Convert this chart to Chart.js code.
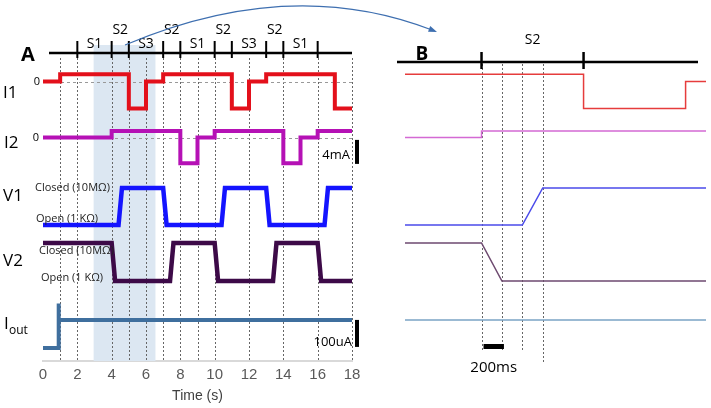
<!DOCTYPE html>
<html>
<head>
<meta charset="utf-8">
<script src="https://cdn.jsdelivr.net/npm/chart.js@4.4.1/dist/chart.umd.min.js"></script>
<style>
  body { margin: 0; background: #fff; }
  #wrap { position: relative; width: 711px; height: 408px; }
  #wrap canvas { position: absolute; left: 0; top: 0; }
</style>
</head>
<body>
<div id="wrap">
  <canvas id="chartA" width="711" height="408"></canvas>
  <canvas id="chartB" width="711" height="408"></canvas>
</div>
<script>
/* --- Data (time in s) --- */
const phaseBounds = [2, 4, 5, 7, 8, 10, 11, 13, 14, 16];
const phaseLabels = ['S1', 'S2', 'S3', 'S2', 'S1', 'S2', 'S3', 'S2', 'S1'];
const gridTimes = [1, 2, 4, 5, 6, 7, 8, 9, 10, 12, 14, 16, 18];
const zoomMarks = [4.0, 4.2, 4.4, 4.6];

// I1, I2 in mA
const i1Time = [0, 1, 1, 5, 5, 6, 6, 7, 7, 11, 11, 12, 12, 13, 13, 17, 17, 18];
const i1Val  = [0, 0, 1.2, 1.2, -4.5, -4.5, 0, 0, 1.2, 1.2, -4.5, -4.5, 0, 0, 1.2, 1.2, -4.5, -4.5];
const i2Time = [0, 4, 4, 8, 8, 9, 9, 10, 10, 14, 14, 15, 15, 16, 16, 18];
const i2Val  = [0, 0, 1.1, 1.1, -4.3, -4.3, 0, 0, 1.1, 1.1, -4.3, -4.3, 0, 0, 1.1, 1.1];
// valves: 0 = Open (1 KΩ), 1 = Closed (10MΩ)
const v1Time = [0, 4.4, 4.6, 7.0, 7.2, 10.4, 10.6, 13.0, 13.2, 16.4, 16.6, 18];
const v1Val  = [0, 0, 1, 1, 0, 0, 1, 1, 0, 0, 1, 1];
const v2Time = [0, 4.0, 4.2, 7.4, 7.6, 10.0, 10.2, 13.4, 13.6, 16.0, 16.2, 18];
const v2Val  = [1, 1, 0, 0, 1, 1, 0, 0, 1, 1, 0, 0];
// output current in uA
const ioutTime = [0, 0.9, 0.9, 0.93, 18];
const ioutVal  = [0, 0, 165, 104, 104];

/* --- Layout helpers --- */
const PLOT_TOP = 0, PLOT_BOTTOM = 361;
function trackAxis(zeroPx, pxPerUnit) {
    return { display: false, position: 'left',
        min: -(PLOT_BOTTOM - zeroPx) / pxPerUnit, max: (zeroPx - PLOT_TOP) / pxPerUnit };
}
function trace(time, val, axis, color, width) {
    return {
        data: time.map((t, i) => ({ x: t, y: val[i] })),
        yAxisID: axis, borderColor: color, borderWidth: width,
        pointRadius: 0, tension: 0, fill: false,
        borderJoinStyle: 'miter', borderCapStyle: 'butt'
    };
}
const trackScales = {
    yI1: trackAxis(81.5, 6),
    yI2: trackAxis(137.5, 6),
    yV1: trackAxis(225, 37),
    yV2: trackAxis(281, 38),
    yOut: trackAxis(348, 0.27)
};

function dashedV(ctx, x, y0, y1) {
    ctx.beginPath(); ctx.moveTo(x, y0); ctx.lineTo(x, y1); ctx.stroke();
}

/* --- Panel A decorations --- */
const decoA = {
    id: 'decoA',
    beforeDatasetsDraw(chart) {
        const { ctx, scales } = chart;
        const x = scales.x;
        ctx.save();
        // highlighted window
        ctx.fillStyle = '#dce7f2';
        ctx.fillRect(x.getPixelForValue(2.95), 45, x.getPixelForValue(6.55) - x.getPixelForValue(2.95), PLOT_BOTTOM - 45);
        // dotted time grid
        ctx.strokeStyle = '#666'; ctx.lineWidth = 1; ctx.setLineDash([2, 2]);
        gridTimes.forEach(t => dashedV(ctx, Math.round(x.getPixelForValue(t)) + 0.5, 58, PLOT_BOTTOM));
        // zero lines of I1 / I2
        ctx.strokeStyle = '#999'; ctx.setLineDash([3, 3]);
        ['yI1', 'yI2'].forEach(id => {
            const y = Math.round(scales[id].getPixelForValue(0)) + 0.5;
            ctx.beginPath(); ctx.moveTo(x.left, y); ctx.lineTo(x.right, y); ctx.stroke();
        });
        ctx.restore();
    },
    afterDatasetsDraw(chart) {
        const { ctx, scales } = chart;
        const x = scales.x;
        ctx.save();
        // timeline with phase ticks
        ctx.strokeStyle = '#000'; ctx.lineWidth = 2.5;
        ctx.beginPath(); ctx.moveTo(x.left + 6, 53); ctx.lineTo(x.right, 53); ctx.stroke();
        ctx.lineWidth = 2;
        phaseBounds.forEach(t => dashedV(ctx, x.getPixelForValue(t), 41, 58));
        ctx.fillStyle = '#000'; ctx.font = '14px "Open Sans"';
        ctx.textAlign = 'center'; ctx.textBaseline = 'middle';
        phaseLabels.forEach((lab, i) => {
            const mid = (phaseBounds[i] + phaseBounds[i + 1]) / 2;
            ctx.fillText(lab, x.getPixelForValue(mid), lab === 'S2' ? 30 : 44);
        });
        // panel letter
        ctx.textAlign = 'left';
        ctx.font = 'bold 20px "Open Sans"';
        ctx.fillText('A', 21, 55);
        // track names
        ctx.font = '17px "Open Sans"';
        ctx.fillText('I1', 3, 93);
        ctx.fillText('I2', 4, 143);
        ctx.fillText('V1', 3, 196);
        ctx.fillText('V2', 3, 261);
        ctx.fillText('I', 4, 324);
        ctx.font = '12px "Open Sans"';
        ctx.fillText('out', 9, 331);
        // zero marks
        ctx.font = '11px "Open Sans"'; ctx.textAlign = 'right';
        ctx.fillText('0', 40, scales.yI1.getPixelForValue(0));
        ctx.fillText('0', 39, scales.yI2.getPixelForValue(0));
        // valve state labels
        ctx.textAlign = 'left'; ctx.fillStyle = '#222';
        ctx.fillText('Closed (10MΩ)', 35, 188);
        ctx.fillText('Open (1 KΩ)', 36, 219);
        ctx.fillText('Closed (10MΩ)', 39, 251);
        ctx.fillText('Open (1 KΩ)', 41, 278);
        // scale bars
        ctx.fillStyle = '#000';
        const bar = (axis, from, to) => {
            const y0 = scales[axis].getPixelForValue(from), y1 = scales[axis].getPixelForValue(to);
            ctx.fillRect(355, y0, 4, y1 - y0);
        };
        bar('yI2', -0.4, -4.4);
        bar('yOut', 104, 4);
        ctx.font = '13px "Open Sans"'; ctx.textAlign = 'right';
        ctx.fillText('4mA', 350, 155);
        ctx.fillText('100uA', 352, 342);
        // connector arrow to panel B
        ctx.strokeStyle = '#3e6fb0'; ctx.fillStyle = '#3e6fb0'; ctx.lineWidth = 1.2;
        ctx.beginPath(); ctx.moveTo(125, 45); ctx.quadraticCurveTo(290, -25, 432, 30); ctx.stroke();
        const ang = Math.atan2(30 - -25, 432 - 290);
        ctx.beginPath();
        ctx.moveTo(437, 32);
        ctx.lineTo(437 - 9 * Math.cos(ang - 0.35), 32 - 9 * Math.sin(ang - 0.35));
        ctx.lineTo(437 - 9 * Math.cos(ang + 0.35), 32 - 9 * Math.sin(ang + 0.35));
        ctx.closePath(); ctx.fill();
        ctx.restore();
    }
};

/* --- Panel B decorations --- */
const decoB = {
    id: 'decoB',
    beforeDatasetsDraw(chart) {
        const { ctx, scales } = chart;
        ctx.save();
        ctx.strokeStyle = '#666'; ctx.lineWidth = 1; ctx.setLineDash([2, 2]);
        zoomMarks.forEach((t, i) => dashedV(ctx, Math.round(scales.x.getPixelForValue(t)) + 0.5, 64,
            i === zoomMarks.length - 1 ? 362 : 352));
        ctx.restore();
    },
    afterDatasetsDraw(chart) {
        const { ctx, scales } = chart;
        const x = scales.x;
        ctx.save();
        ctx.strokeStyle = '#000'; ctx.lineWidth = 2.5;
        ctx.beginPath(); ctx.moveTo(x.left - 8, 62); ctx.lineTo(x.right - 8, 62); ctx.stroke();
        phaseBounds.filter(t => t > x.min && t < x.max)
            .forEach(t => dashedV(ctx, x.getPixelForValue(t), 52, 69));
        ctx.fillStyle = '#000'; ctx.textAlign = 'center'; ctx.textBaseline = 'middle';
        ctx.font = '14px "Open Sans"';
        // only phases lying wholly inside the zoom window get a name
        phaseLabels.forEach((lab, i) => {
            if (phaseBounds[i] >= x.min && phaseBounds[i + 1] <= x.max) {
                ctx.fillText(lab, x.getPixelForValue((phaseBounds[i] + phaseBounds[i + 1]) / 2), 40);
            }
        });
        ctx.font = 'bold 19px "Open Sans"';
        ctx.fillText('B', 422, 55);
        // 200 ms scale bar
        const b0 = x.getPixelForValue(4.0) + 2, b1 = x.getPixelForValue(4.2) + 2;
        ctx.fillRect(b0, 344, b1 - b0, 5);
        ctx.font = '15px "Open Sans"';
        ctx.fillText('200ms', (b0 + b1) / 2, 368);
        ctx.restore();
    }
};

function xAxisFit(scale) { scale.height = 408 - PLOT_BOTTOM; }

document.addEventListener('DOMContentLoaded', () => {

    // Panel A: full 0-18 s record
    new Chart(document.getElementById('chartA'), {
        type: 'line',
        data: {
            datasets: [
                trace(i1Time, i1Val, 'yI1', '#e3101b', 4),
                trace(i2Time, i2Val, 'yI2', '#b511b5', 4),
                trace(v1Time, v1Val, 'yV1', '#1414ff', 4.5),
                trace(v2Time, v2Val, 'yV2', '#3d0a48', 4.5),
                trace(ioutTime, ioutVal, 'yOut', '#3f6f9e', 4)
            ]
        },
        options: {
            responsive: false, animation: false,
            layout: { padding: { left: 43, right: 711 - 352, top: PLOT_TOP, bottom: 0 } },
            plugins: { legend: { display: false }, tooltip: { enabled: false } },
            scales: {
                x: {
                    type: 'linear', min: 0, max: 18,
                    ticks: { stepSize: 2, padding: 5, color: '#595959', font: { family: 'Liberation Sans', size: 15 } },
                    grid: { display: false, drawTicks: false },
                    border: { display: true, color: '#d9d9d9', width: 2 },
                    title: { display: true, text: 'Time (s)', color: '#404040',
                             font: { family: 'Liberation Sans', size: 14 }, padding: { top: 0, bottom: 3 } },
                    afterFit: xAxisFit
                },
                ...trackScales
            }
        },
        plugins: [decoA]
    });

    // Panel B: zoom on the S1 -> S2 -> S3 switch
    new Chart(document.getElementById('chartB'), {
        type: 'line',
        data: {
            datasets: [
                trace(i1Time, i1Val, 'yI1', '#e63c3c', 1.5),
                trace(i2Time, i2Val, 'yI2', '#d46ad4', 1.5),
                trace(v1Time, v1Val, 'yV1', '#4b4bea', 1.5),
                trace(v2Time, v2Val, 'yV2', '#6e4a70', 1.5),
                trace(ioutTime, ioutVal, 'yOut', '#7aa3c4', 1.5)
            ]
        },
        options: {
            responsive: false, animation: false,
            layout: { padding: { left: 405, right: 5, top: PLOT_TOP, bottom: 0 } },
            plugins: { legend: { display: false }, tooltip: { enabled: false } },
            scales: {
                x: {
                    type: 'linear', min: 3.25, max: 6.2,
                    ticks: { display: false },
                    grid: { display: false, drawTicks: false },
                    border: { display: false },
                    afterFit: xAxisFit
                },
                ...trackScales
            }
        },
        plugins: [decoB]
    });
});
</script>
</body>
</html>
